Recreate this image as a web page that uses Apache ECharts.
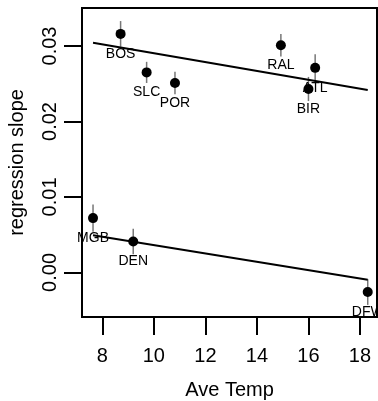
<!DOCTYPE html>
<html>
<head>
<meta charset="utf-8">
<script src="https://cdn.jsdelivr.net/npm/echarts@6/dist/echarts.min.js"></script>
<style>
  html, body { margin: 0; padding: 0; background: #fff; }
  #main { width: 378px; height: 401px; }
</style>
</head>
<body>
<div id="main"></div>
<script>
// city points: temperature, regression slope, error half-width
var cities = ['BOS', 'SLC', 'POR', 'RAL', 'ATL', 'BIR', 'MGB', 'DEN', 'DFW'];
var temps = [8.71, 9.72, 10.82, 14.93, 16.26, 16.0, 7.64, 9.20, 18.30];
var slopes = [0.0316, 0.0265, 0.0251, 0.0301, 0.0271, 0.0243, 0.0072, 0.0041, -0.0026];
var errs = [0.0017, 0.0014, 0.0015, 0.0015, 0.0018, 0.0016, 0.0018, 0.0017, 0.0017];

// fitted lines (two ends each)
var fitTemps = [7.64, 18.30];
var fitUpper = [0.03044, 0.02418];
var fitLower = [0.00492, -0.00097];

var xTicks = [8, 10, 12, 14, 16, 18];
var yTicks = [0, 0.01, 0.02, 0.03];

var font = 'Liberation Sans, Arial, sans-serif';

var pts = cities.map(function (c, i) {
  return { name: c, value: [temps[i], slopes[i], errs[i]] };
});

var chart = echarts.init(document.getElementById('main'));
chart.setOption({
  animation: false,
  textStyle: { fontFamily: font },
  grid: {
    left: 82, right: 1, top: 8, bottom: 84,
    outerBoundsMode: 'none',
    containLabel: false,
    show: true,
    borderColor: '#000',
    borderWidth: 2
  },
  xAxis: {
    type: 'value',
    position: 'bottom',
    min: 7.212,
    max: 18.66,
    name: 'Ave Temp',
    nameLocation: 'middle',
    nameGap: 63,
    nameTextStyle: { color: '#000', fontSize: 20, fontFamily: font },
    axisLine: { show: true, onZero: false, lineStyle: { color: '#000', width: 2 } },
    axisTick: {
      show: true, inside: false, length: 18, customValues: xTicks,
      lineStyle: { color: '#000', width: 2 }
    },
    axisLabel: {
      customValues: xTicks, margin: 29,
      color: '#000', fontSize: 20, fontFamily: font
    },
    splitLine: { show: false }
  },
  yAxis: {
    type: 'value',
    position: 'left',
    min: -0.0059,
    max: 0.03503,
    name: 'regression slope',
    nameLocation: 'middle',
    nameGap: 55,
    nameTextStyle: { color: '#000', fontSize: 20, fontFamily: font },
    axisLine: { show: true, onZero: false, lineStyle: { color: '#000', width: 2 } },
    axisTick: {
      show: true, inside: false, length: 18, customValues: yTicks,
      lineStyle: { color: '#000', width: 2 }
    },
    axisLabel: {
      customValues: yTicks, margin: 22, rotate: 90,
      color: '#000', fontSize: 20, fontFamily: font,
      formatter: function (v) { return v.toFixed(2); }
    },
    splitLine: { show: false }
  },
  series: [
    {
      type: 'custom',
      data: pts,
      renderItem: function (params, api) {
        var x = api.value(0), y = api.value(1), e = api.value(2);
        var p1 = api.coord([x, y - e]);
        var p2 = api.coord([x, y + e]);
        return {
          type: 'line',
          shape: { x1: p1[0], y1: p1[1], x2: p2[0], y2: p2[1] },
          style: { stroke: '#777', lineWidth: 1.5 }
        };
      }
    },
    {
      type: 'scatter',
      data: pts,
      symbolSize: 10,
      itemStyle: { color: '#000', opacity: 1 },
      label: {
        show: true,
        position: 'bottom',
        distance: 8,
        formatter: '{b}',
        color: '#000',
        fontSize: 14,
        fontFamily: font
      }
    },
    {
      type: 'line',
      data: fitTemps.map(function (t, i) { return [t, fitUpper[i]]; }),
      symbol: 'none',
      lineStyle: { color: '#000', width: 2 }
    },
    {
      type: 'line',
      data: fitTemps.map(function (t, i) { return [t, fitLower[i]]; }),
      symbol: 'none',
      lineStyle: { color: '#000', width: 2 }
    }
  ]
});
</script>
</body>
</html>
